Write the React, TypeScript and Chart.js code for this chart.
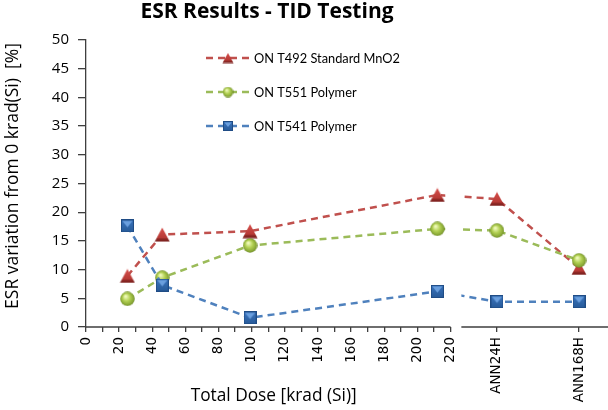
import React, { useEffect, useRef } from 'react';
import { Chart, registerables } from 'chart.js';

Chart.register(...registerables);

// ---------- data ----------
const chartTitle = 'ESR Results - TID Testing';
const yAxisTitle = 'ESR variation from 0 krad(Si)  [%]';
const xAxisTitle = 'Total Dose [krad (Si)]';

const doseX = [25, 46, 99, 212];
const annLabels = ['ANN24H', 'ANN168H'];
const annX = [248, 297.5];
const doseTicks = [0, 10, 20, 30, 40, 50, 60, 70, 80, 90, 100, 110, 120, 130, 140, 150, 160, 170, 180, 190, 200, 210, 220];
const doseLabelStep = 20;
const yMin = 0;
const yMax = 50;
const yStep = 5;

const seriesNames = ['ON T492 Standard MnO2', 'ON T551 Polymer', 'ON T541 Polymer'];
const t492 = [8.9, 16.1, 16.7, 23.0, 22.3, 10.3];
const t551 = [4.9, 8.6, 14.2, 17.1, 16.8, 11.6];
const t541 = [17.6, 7.3, 1.6, 6.2, 4.4, 4.4];

const lineColors = ['#C0504D', '#9BBB59', '#4F81BD'];

// ---------- markers ----------
function makeTriangle(scale = 1) {
  const w = Math.round(16 * scale), h = Math.round(15 * scale);
  const c = document.createElement('canvas');
  c.width = w; c.height = h;
  const g = c.getContext('2d')!;
  g.beginPath();
  g.moveTo(w / 2, 0.5);
  g.lineTo(w - 0.5, h - 0.5);
  g.lineTo(0.5, h - 0.5);
  g.closePath();
  const gr = g.createLinearGradient(0, 0, 0, h);
  gr.addColorStop(0, '#D8504C');
  gr.addColorStop(0.7, '#B73A36');
  gr.addColorStop(0.8, '#8A2623');
  gr.addColorStop(1, '#7A2220');
  g.fillStyle = gr;
  g.fill();
  return c;
}

function makeCircle(scale = 1) {
  const d = Math.round(15 * scale);
  const c = document.createElement('canvas');
  c.width = d; c.height = d;
  const g = c.getContext('2d')!;
  const r = d / 2;
  const gr = g.createRadialGradient(r * 0.75, r * 0.65, r * 0.1, r, r, r);
  gr.addColorStop(0, '#EEF9B8');
  gr.addColorStop(0.45, '#B2D053');
  gr.addColorStop(0.85, '#86A534');
  gr.addColorStop(1, '#617D22');
  g.beginPath();
  g.arc(r, r, r - 0.3, 0, Math.PI * 2);
  g.fillStyle = gr;
  g.fill();
  return c;
}

function makeSquare(scale = 1) {
  const s = Math.round(13 * scale);
  const c = document.createElement('canvas');
  c.width = s; c.height = s;
  const g = c.getContext('2d')!;
  const gr = g.createLinearGradient(0, 0, 0, s);
  gr.addColorStop(0, '#3A74BE');
  gr.addColorStop(1, '#275A98');
  g.fillStyle = gr;
  g.fillRect(0, 0, s, s);
  g.beginPath();
  g.moveTo(1.5, 1.5);
  g.lineTo(s - 1.5, 1.5);
  g.lineTo(s / 2, s * 0.6);
  g.closePath();
  g.fillStyle = '#6A9FDE';
  g.fill();
  g.strokeStyle = '#1F4C85';
  g.lineWidth = 1;
  g.strokeRect(0.5, 0.5, s - 1, s - 1);
  return c;
}

export default function App() {
  const ref = useRef<HTMLCanvasElement | null>(null);

  useEffect(() => {
    document.body.style.margin = '0';
    const canvas = ref.current;
    if (!canvas) return;

    const markers = [makeTriangle(), makeCircle(), makeSquare()];
    const legendMarkers = [makeTriangle(0.72), makeCircle(0.75), makeSquare(0.8)];
    const series = [t492, t551, t541];

    const toPoints = (s: number[]) => [
      ...doseX.map((x, i) => ({ x, y: s[i] })),
      ...annX.map((x, j) => ({ x, y: s[doseX.length + j] })),
    ];

    const gapStart = 216.8;
    const gapEnd = 226.5;
    const axisBreak = 220;
    const axisColor = '#3F3F3F';

    const decor = {
      id: 'decor',
      beforeDatasetDraw(chart: any) {
        const { ctx, scales } = chart;
        const x = scales.x;
        const g0 = x.getPixelForValue(gapStart);
        const g1 = x.getPixelForValue(gapEnd);
        ctx.save();
        ctx.beginPath();
        ctx.rect(0, 0, g0, chart.height);
        ctx.rect(g1, 0, chart.width - g1, chart.height);
        ctx.clip();
      },
      afterDatasetDraw(chart: any) {
        chart.ctx.restore();
      },
      afterDraw(chart: any) {
        const { ctx, chartArea: a, scales } = chart;
        const x = scales.x;
        ctx.save();
        // x axis line with break
        ctx.strokeStyle = axisColor;
        ctx.lineWidth = 1.3;
        ctx.beginPath();
        ctx.moveTo(a.left, a.bottom);
        ctx.lineTo(x.getPixelForValue(axisBreak), a.bottom);
        ctx.moveTo(x.getPixelForValue(gapEnd), a.bottom);
        ctx.lineTo(a.right, a.bottom);
        ctx.stroke();

        // title
        ctx.fillStyle = '#000';
        ctx.font = 'bold 21px "Open Sans"';
        ctx.textAlign = 'center';
        ctx.textBaseline = 'alphabetic';
        ctx.fillText(chartTitle, 267, 18);

        // y title
        ctx.save();
        ctx.translate(13, 176);
        ctx.rotate(-Math.PI / 2);
        ctx.font = '17.5px "Open Sans"';
        ctx.textBaseline = 'middle';
        ctx.fillText(yAxisTitle, 0, 0);
        ctx.restore();

        // x title
        ctx.font = '17.3px "Open Sans"';
        ctx.textBaseline = 'middle';
        ctx.textAlign = 'center';
        ctx.fillText(xAxisTitle, (a.left + x.getPixelForValue(gapEnd)) / 2, 396);

        // legend
        ctx.textAlign = 'left';
        ctx.font = '12.8px Lato';
        seriesNames.forEach((name, i) => {
          const y = 58 + i * 34;
          ctx.strokeStyle = lineColors[i];
          ctx.lineWidth = 2.5;
          ctx.setLineDash([7, 5]);
          ctx.beginPath();
          ctx.moveTo(206, y);
          ctx.lineTo(251, y);
          ctx.stroke();
          ctx.setLineDash([]);
          const m = legendMarkers[i];
          ctx.drawImage(m, 228 - m.width / 2, y - m.height / 2);
          ctx.fillStyle = '#000';
          ctx.fillText(name, 254, y + 1);
        });
        ctx.restore();
      },
    };

    const chart = new Chart(canvas, {
      type: 'line',
      data: {
        datasets: series.map((s, i) => ({
          label: seriesNames[i],
          data: toPoints(s),
          borderColor: lineColors[i],
          backgroundColor: lineColors[i],
          borderWidth: 2.5,
          borderDash: [7, 5],
          tension: 0,
          fill: false,
          pointStyle: markers[i] as any,
          pointRadius: 8,
          order: 3 - i,
        })),
      },
      options: {
        responsive: false,
        devicePixelRatio: 1,
        animation: false,
        layout: { autoPadding: false, padding: { top: 40, right: 0, bottom: 0, left: 0 } },
        plugins: {
          legend: { display: false },
          title: { display: false },
          tooltip: { enabled: false },
        },
        scales: {
          x: {
            type: 'linear',
            min: 0,
            max: 315,
            afterBuildTicks(scale: any) {
              scale.ticks = [...doseTicks, ...annX].map((v) => ({ value: v }));
            },
            afterFit(scale: any) {
              scale.height = 83;
              scale.paddingLeft = 0;
              scale.paddingRight = 0;
            },
            ticks: {
              autoSkip: false,
              minRotation: 90,
              maxRotation: 90,
              padding: 5,
              color: '#000',
              font: { family: '"DejaVu Sans"', size: 13.5 },
              callback(value: any) {
                const k = annX.indexOf(value);
                if (k >= 0) return annLabels[k];
                return value % doseLabelStep === 0 ? String(value) : '';
              },
            },
            grid: {
              display: true,
              drawOnChartArea: false,
              drawTicks: true,
              tickLength: 5,
              color: axisColor,
              lineWidth: 1.3,
            },
            border: { display: false },
          },
          y: {
            min: yMin,
            max: yMax,
            afterFit(scale: any) {
              scale.width = 86;
              scale.paddingTop = 0;
              scale.paddingBottom = 0;
            },
            ticks: {
              stepSize: yStep,
              padding: 9,
              color: '#000',
              font: { family: '"Open Sans"', size: 15 },
            },
            grid: {
              display: true,
              drawOnChartArea: false,
              drawTicks: true,
              tickLength: 8,
              color: axisColor,
              lineWidth: 1.3,
            },
            border: { display: true, color: axisColor, width: 1.3 },
          },
        },
      },
      plugins: [decor],
    });

    return () => chart.destroy();
  }, []);

  return (
    <div style={{ width: 608, height: 410 }}>
      <canvas ref={ref} width={608} height={410} style={{ display: 'block' }} />
    </div>
  );
}
